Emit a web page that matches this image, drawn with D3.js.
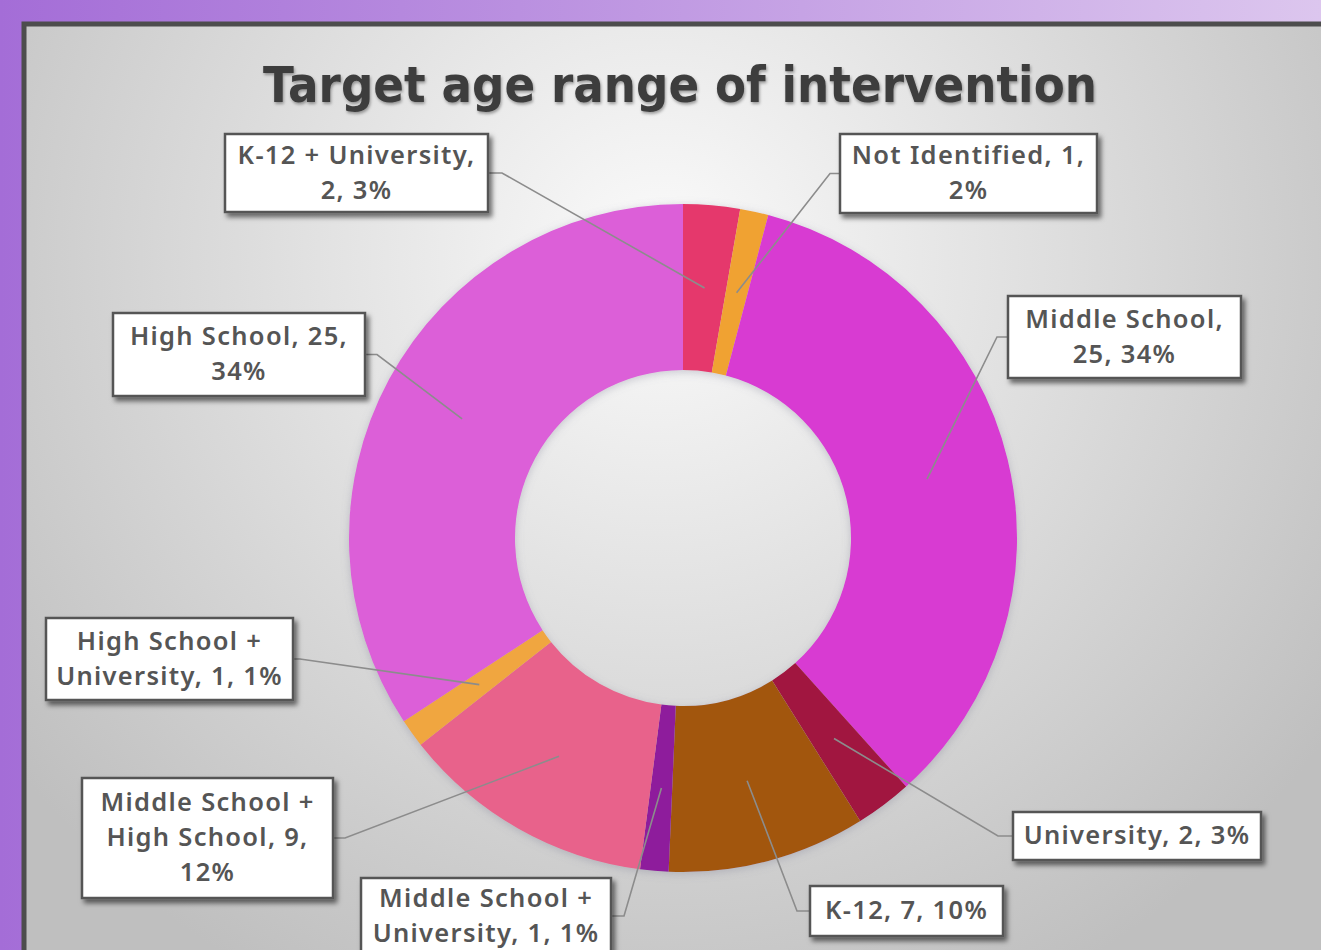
<!DOCTYPE html>
<html>
<head>
<meta charset="utf-8">
<script src="https://cdn.jsdelivr.net/npm/d3@7/dist/d3.min.js"></script>
<style>
  html, body { margin: 0; padding: 0; background: #a874da; }
  svg { display: block; }
</style>
</head>
<body>
<svg id="chart" width="1321" height="950"></svg>
<script>
// Survey counts by target age range, clockwise from 12 o'clock
const categories = [
  "K-12 + University",
  "Not Identified",
  "Middle School",
  "University",
  "K-12",
  "Middle School + University",
  "Middle School + High School",
  "High School + University",
  "High School"
];
const counts = [2, 1, 25, 2, 7, 1, 9, 1, 25];
const percentLabels = ["3%", "2%", "34%", "3%", "10%", "1%", "12%", "1%", "34%"];
const sliceColors = ["#e5386c", "#f0a233", "#d83ad2", "#a1123f", "#a2560f",
                     "#8e1c9c", "#e8628b", "#f0a640", "#dc5ed8"];
const title = "Target age range of intervention";

// Callout boxes (same order as the categories): position/size and words per line
const callouts = [
  { x: 225, y: 134, w: 263, h: 78, lines: [3, 2], side: "right", elbow: 502 },     // K-12 + University
  { x: 840, y: 134, w: 257, h: 79, lines: [3, 1], side: "left",  elbow: 830 },     // Not Identified
  { x: 1008, y: 296, w: 233, h: 82, lines: [2, 2], side: "left", elbow: 997 },     // Middle School
  { x: 1013, y: 812, w: 248, h: 48, lines: [3], side: "left", elbow: 998 },        // University
  { x: 810, y: 886, w: 193, h: 50, lines: [3], side: "left", elbow: 797 },         // K-12
  { x: 361, y: 878, w: 250, h: 76, lines: [3, 3], side: "right", elbow: 624 },     // Middle School + University
  { x: 82, y: 778, w: 251, h: 120, lines: [3, 3, 1], side: "right", elbow: 345 },  // Middle School + High School
  { x: 46, y: 618, w: 247, h: 82, lines: [3, 3], side: "right", elbow: 300 },      // High School + University
  { x: 113, y: 313, w: 252, h: 83, lines: [3, 1], side: "right", elbow: 377 }      // High School
];

const W = 1321, H = 950;
const cx = 683, cy = 538, rOuter = 334, rInner = 168;

const svg = d3.select("#chart");
const defs = svg.append("defs");

// Purple backdrop
const bg = defs.append("linearGradient").attr("id", "bgGrad")
  .attr("x1", "0%").attr("y1", "0%").attr("x2", "100%").attr("y2", "0%");
bg.append("stop").attr("offset", "0%").attr("stop-color", "#a46dd7");
bg.append("stop").attr("offset", "100%").attr("stop-color", "#dcc6ee");

// Gray plot panel with bright spot near the title
const panelGrad = defs.append("radialGradient").attr("id", "panelGrad")
  .attr("gradientUnits", "userSpaceOnUse")
  .attr("cx", 660).attr("cy", 260).attr("r", 820);
panelGrad.append("stop").attr("offset", "0%").attr("stop-color", "#fbfbfb");
panelGrad.append("stop").attr("offset", "45%").attr("stop-color", "#e0e0e0");
panelGrad.append("stop").attr("offset", "100%").attr("stop-color", "#bfbfbf");

const boxShadow = defs.append("filter").attr("id", "boxShadow")
  .attr("x", "-10%").attr("y", "-20%").attr("width", "130%").attr("height", "150%");
boxShadow.append("feDropShadow").attr("dx", 3).attr("dy", 4)
  .attr("stdDeviation", 2.5).attr("flood-color", "#000").attr("flood-opacity", 0.55);

const ringShadow = defs.append("filter").attr("id", "ringShadow")
  .attr("x", "-10%").attr("y", "-10%").attr("width", "120%").attr("height", "120%");
ringShadow.append("feDropShadow").attr("dx", 0).attr("dy", 2)
  .attr("stdDeviation", 4).attr("flood-color", "#7a7a90").attr("flood-opacity", 0.35);

const titleShadow = defs.append("filter").attr("id", "titleShadow")
  .attr("x", "-5%").attr("y", "-20%").attr("width", "110%").attr("height", "150%");
titleShadow.append("feDropShadow").attr("dx", 1).attr("dy", 2)
  .attr("stdDeviation", 1.5).attr("flood-color", "#000").attr("flood-opacity", 0.35);

svg.append("rect").attr("width", W).attr("height", H).attr("fill", "url(#bgGrad)");

svg.append("rect")
  .attr("x", 24).attr("y", 24).attr("width", W).attr("height", H)
  .attr("fill", "url(#panelGrad)")
  .attr("stroke", "#4d4d4d").attr("stroke-width", 5);

// Title
svg.append("text")
  .attr("x", 680).attr("y", 102)
  .attr("text-anchor", "middle")
  .attr("font-family", "'DejaVu Sans', sans-serif")
  .attr("font-weight", "bold")
  .attr("font-size", 50)
  .attr("fill", "#3d3d3d")
  .attr("textLength", 834)
  .attr("lengthAdjust", "spacingAndGlyphs")
  .attr("filter", "url(#titleShadow)")
  .text(title);

// Donut
const pie = d3.pie().sort(null).value(d => d);
const arcs = pie(counts);
const arc = d3.arc().innerRadius(rInner).outerRadius(rOuter);
const color = d3.scaleOrdinal().domain(categories).range(sliceColors);

const ring = svg.append("g").attr("transform", `translate(${cx},${cy})`)
  .attr("filter", "url(#ringShadow)");
ring.selectAll("path").data(arcs).join("path")
  .attr("d", arc)
  .attr("fill", (d, i) => color(categories[i]));

// Leader lines from each callout to its slice centroid
const leaders = svg.append("g")
  .attr("fill", "none").attr("stroke", "#8c8c8c").attr("stroke-width", 1.6);
arcs.forEach((a, i) => {
  const c = callouts[i];
  const [px, py] = arc.centroid(a);
  const ax = c.side === "right" ? c.x + c.w : c.x;
  const ay = c.y + c.h / 2;
  leaders.append("polyline")
    .attr("points", [[ax, ay], [c.elbow, ay], [cx + px, cy + py]].map(p => p.join(",")).join(" "));
});

// Callout boxes
const lineH = 35, fontSize = 25.5;
const labelG = svg.append("g");
categories.forEach((cat, i) => {
  const c = callouts[i];
  const words = `${cat}, ${counts[i]}, ${percentLabels[i]}`.split(" ");
  const rows = [];
  let k = 0;
  c.lines.forEach(n => { rows.push(words.slice(k, k + n).join(" ")); k += n; });

  const g = labelG.append("g");
  g.append("rect")
    .attr("x", c.x).attr("y", c.y).attr("width", c.w).attr("height", c.h)
    .attr("fill", "#ffffff").attr("stroke", "#555555").attr("stroke-width", 2.5)
    .attr("filter", "url(#boxShadow)");
  const top = c.y + c.h / 2 - (rows.length * lineH) / 2;
  g.selectAll("text").data(rows).join("text")
    .attr("x", c.x + c.w / 2)
    .attr("y", (d, j) => top + lineH * j + lineH * 0.74)
    .attr("text-anchor", "middle")
    .attr("font-family", "'Noto Sans', sans-serif")
    .attr("font-weight", 600)
    .attr("font-size", fontSize)
    .attr("letter-spacing", 1.3)
    .attr("fill", "#555555")
    .text(d => d);
});
</script>
</body>
</html>
